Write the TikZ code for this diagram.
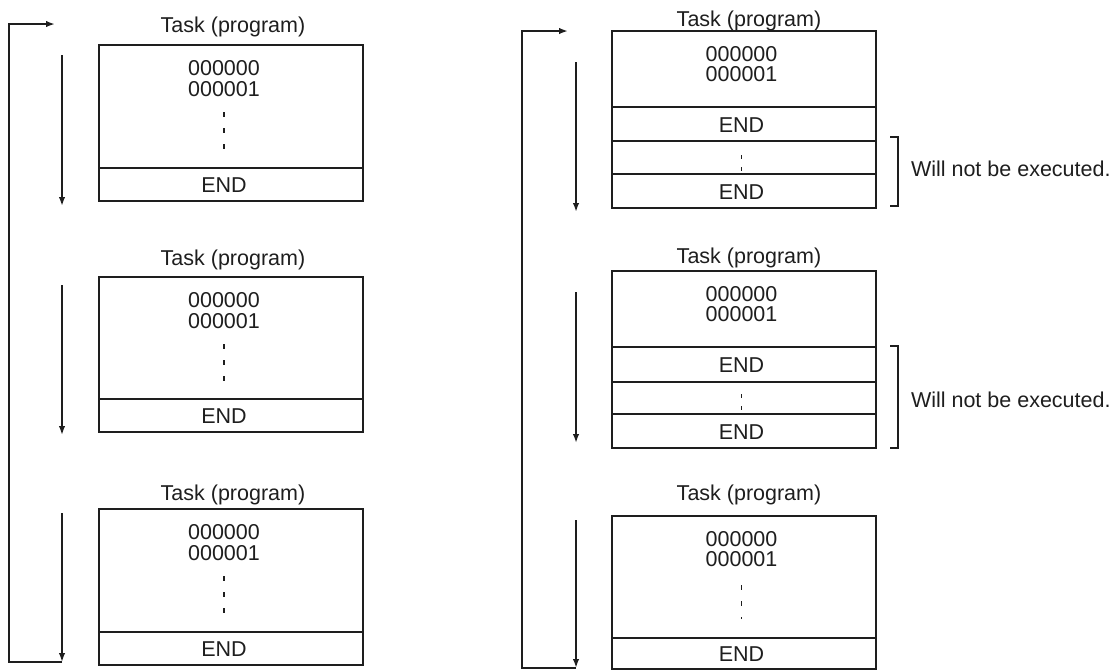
\documentclass[tikz,border=0pt]{standalone}
\usepackage{fontspec}
\setmainfont{Liberation Sans}
\usetikzlibrary{arrows.meta}
\definecolor{ink}{HTML}{1E1E1E}
\begin{document}
\begin{tikzpicture}[x=1pt,y=-1pt, color=ink,
  frame/.style={line width=2pt},
  boxnode/.style={draw, line width=2pt, minimum width=264pt, inner sep=0pt, outer sep=0pt},
  txt/.style={anchor=base, inner sep=0pt, outer sep=0pt, font=\fontsize{21.5}{24}\selectfont},
  note/.style={anchor=base west, inner sep=0pt, outer sep=0pt, font=\fontsize{21.5}{24}\selectfont},
  flow/.style={line width=2pt, -{Latex[length=9pt,width=6.5pt]}},
  loopline/.style={line width=2pt, line join=miter},
  dotsA/.style={line width=1.2pt, dash pattern=on 4.5pt off 11.5pt},
  dotsB/.style={line width=1.2pt, dash pattern=on 3.5pt off 8.5pt},
  brk/.style={line width=2pt, line join=miter}]
\useasboundingbox (0,0) rectangle (1115,670);

% ---------------- left column ----------------
\node[boxnode, minimum height=156pt] (L1) at (231,123) {};
\node[boxnode, minimum height=155pt] (L2) at (231,354.5) {};
\node[boxnode, minimum height=156pt] (L3) at (231,587) {};
\draw[frame] (99,168) -- (363,168);
\draw[frame] (99,399) -- (363,399);
\draw[frame] (99,632) -- (363,632);

\node[txt] (L1t) at (233,32) {Task (program)};
\node[txt] (L2t) at (233,265) {Task (program)};
\node[txt] (L3t) at (233,500) {Task (program)};

\node[txt] (L1a) at (224,75) {000000};
\node[txt] (L1b) at (224,96) {000001};
\node[txt] (L2a) at (224,307) {000000};
\node[txt] (L2b) at (224,328) {000001};
\node[txt] (L3a) at (224,539) {000000};
\node[txt] (L3b) at (224,560) {000001};

\draw[dotsA] (224,112) -- (224,149);
\draw[dotsA] (224,344) -- (224,381);
\draw[dotsA] (224,576) -- (224,613);

\node[txt] (L1e) at (224,192.5) {END};
\node[txt] (L2e) at (224,423.5) {END};
\node[txt] (L3e) at (224,656.5) {END};

\coordinate (la1s) at (62,55);  \coordinate (la1e) at (62,206);
\coordinate (la2s) at (62,285); \coordinate (la2e) at (62,435);
\coordinate (la3s) at (62,513); \coordinate (la3e) at (62,662);
\coordinate (lbl) at (9,662);   \coordinate (ltl) at (9,24);
\coordinate (ltr) at (55,24);

\draw[loopline, -{Latex[length=9pt,width=6.5pt]}] (la3e) -- (lbl) -- (ltl) -- (ltr);
\draw[flow] (la1s) -- (la1e);
\draw[flow] (la2s) -- (la2e);
\draw[flow] (la3s) -- (la3e);

% ---------------- right column ----------------
\node[boxnode, minimum height=177pt] (R1) at (744,119.5) {};
\node[boxnode, minimum height=177pt] (R2) at (744,359.5) {};
\node[boxnode, minimum height=153pt] (R3) at (744,592.5) {};
\draw[frame] (612,107) -- (876,107);
\draw[frame] (612,141) -- (876,141);
\draw[frame] (612,174) -- (876,174);
\draw[frame] (612,347) -- (876,347);
\draw[frame] (612,382) -- (876,382);
\draw[frame] (612,414) -- (876,414);
\draw[frame] (612,638) -- (876,638);

\node[txt] (R1t) at (749,26) {Task (program)};
\node[txt] (R2t) at (749,263) {Task (program)};
\node[txt] (R3t) at (749,500) {Task (program)};

\node[txt] (R1a) at (741.5,61) {000000};
\node[txt] (R1b) at (741.5,81) {000001};
\node[txt] (R2a) at (741.5,301) {000000};
\node[txt] (R2b) at (741.5,321) {000001};
\node[txt] (R3a) at (741.5,546) {000000};
\node[txt] (R3b) at (741.5,566) {000001};

\node[txt] (R1e) at (741.5,132) {END};
\node[txt] (R1f) at (741.5,199) {END};
\node[txt] (R2e) at (741.5,372.5) {END};
\node[txt] (R2f) at (741.5,439) {END};
\node[txt] (R3e) at (741.5,661.5) {END};

\draw[dotsB] (741.5,155) -- (741.5,170.5);
\draw[dotsB] (741.5,394) -- (741.5,409.5);
\draw[dotsA] (741.5,585) -- (741.5,619);

\coordinate (ra1s) at (576,62);  \coordinate (ra1e) at (576,212);
\coordinate (ra2s) at (576,292); \coordinate (ra2e) at (576,443);
\coordinate (ra3s) at (576,520); \coordinate (ra3e) at (576,668);
\coordinate (rbl) at (522,668);  \coordinate (rtl) at (522,31);
\coordinate (rtr) at (568,31);

\draw[loopline, -{Latex[length=9pt,width=6.5pt]}] (ra3e) -- (rbl) -- (rtl) -- (rtr);
\draw[flow] (ra1s) -- (ra1e);
\draw[flow] (ra2s) -- (ra2e);
\draw[flow] (ra3s) -- (ra3e);

% brackets and notes
\draw[brk] (890,137) -- (898,137) -- (898,206) -- (890,206);
\draw[brk] (890,346) -- (898,346) -- (898,448) -- (890,448);
\node[note] (N1) at (911,176) {Will not be executed.};
\node[note] (N2) at (911,407) {Will not be executed.};
\end{tikzpicture}
\end{document}
